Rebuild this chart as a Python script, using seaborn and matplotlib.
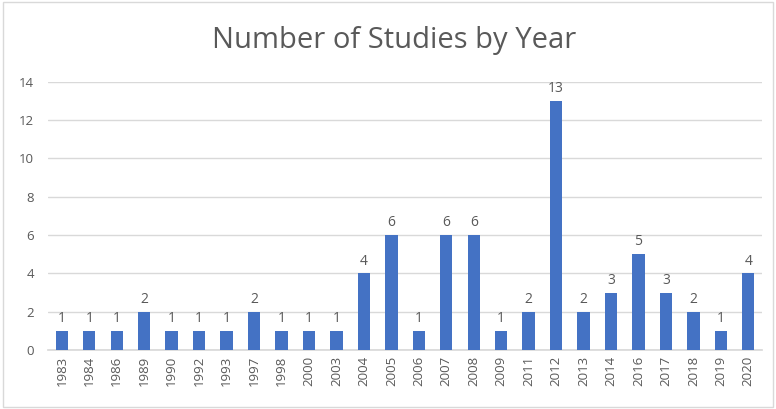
import matplotlib
matplotlib.use("Agg")
import matplotlib.pyplot as plt
import seaborn as sns
import pandas as pd
from matplotlib.patches import Rectangle

years = ["1983","1984","1986","1989","1990","1992","1993","1997","1998","2000","2003","2004","2005",
         "2006","2007","2008","2009","2011","2012","2013","2014","2016","2017","2018","2019","2020"]
counts = [1,1,1,2,1,1,1,2,1,1,1,4,6,1,6,6,1,2,13,2,3,5,3,2,1,4]
yticks = [0,2,4,6,8,10,12,14]

sns.set_theme(style="white")
plt.rcParams['font.family'] = ['Open Sans', 'DejaVu Sans']
txt = "#595959"

df = pd.DataFrame({"year": years, "count": counts})
fig = plt.figure(figsize=(7.76, 4.09), dpi=100)
ax = fig.add_axes([0.062, 0.144, 0.920, 0.656])
sns.barplot(data=df, x="year", y="count", color="#4472C4", width=0.45, saturation=1,
            linewidth=0, ax=ax, zorder=3)
ax.set_ylim(0, 14)
ax.set_yticks(yticks)
ax.set_xlim(-0.5, len(years) - 0.5)
ax.yaxis.grid(True, color="#D9D9D9", linewidth=1, zorder=0)
ax.set_axisbelow(True)
for s in ["top", "right", "left"]:
    ax.spines[s].set_visible(False)
ax.spines["bottom"].set_color("#D9D9D9")
ax.tick_params(axis="x", rotation=90, labelsize=9.5, colors=txt, length=0, pad=4)
ax.tick_params(axis="y", labelsize=9.5, colors=txt, length=0, pad=10)
ax.set_xlabel("")
ax.set_ylabel("")
for i, v in enumerate(counts):
    ax.text(i, v + 0.25, str(v), ha="center", va="bottom", fontsize=10, color=txt)
fig.text(0.508, 0.902, "Number of Studies by Year", ha="center", va="center", fontsize=21, color=txt)
fig.patches.append(Rectangle((0.004, 0.006), 0.992, 0.988, transform=fig.transFigure,
                             fill=False, edgecolor="#D9D9D9", linewidth=1))
fig.savefig("out.png", dpi=100)
